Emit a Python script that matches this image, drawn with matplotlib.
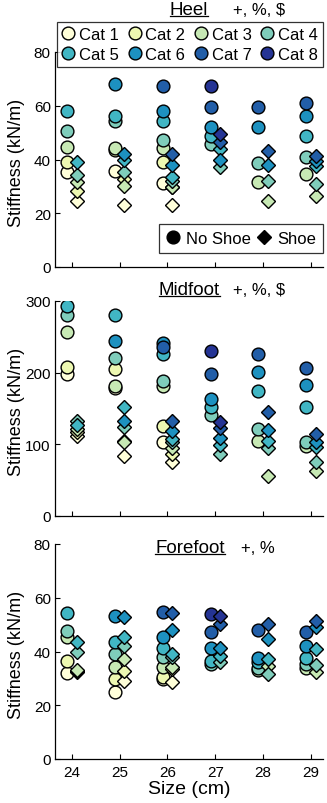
import matplotlib
matplotlib.use('Agg')
import matplotlib.pyplot as plt
import numpy as np
from matplotlib.lines import Line2D

plt.rcParams['font.family'] = ['Liberation Sans', 'DejaVu Sans']

nan = np.nan

# Shoe sizes (cm) and categories
sizes = [24, 25, 26, 27, 28, 29]
categories = ['Cat 1', 'Cat 2', 'Cat 3', 'Cat 4', 'Cat 5', 'Cat 6', 'Cat 7', 'Cat 8']
cat_colors = ['#ffffd9', '#edf8b1', '#c7e9b4', '#7fcdbb',
              '#41b6c4', '#1d91c0', '#225ea8', '#253494']

# Heel stiffness (kN/m), rows = categories, columns = sizes
heel_noshoe = [
    [35.5, 35.8, 31.1, nan, nan, nan],
    [39.0, 43.5, 39.0, nan, nan, nan],
    [44.8, 44.3, 44.3, nan, 31.5, 34.6],
    [50.5, 54.4, 47.3, 45.8, 38.6, 40.8],
    [58.2, 56.3, 54.4, 48.9, nan, 48.9],
    [nan, 68.1, 58.2, 52.2, 52.2, 56.3],
    [nan, nan, 67.2, 59.4, 59.4, 60.9],
    [nan, nan, nan, 67.5, nan, nan],
]
heel_shoe = [
    [24.7, 23.1, 23.0, nan, nan, nan],
    [28.3, 32.7, 29.8, nan, nan, nan],
    [31.8, 30.0, 29.7, nan, 24.4, 26.5],
    [34.4, 35.5, 32.0, 37.1, 32.1, 30.9],
    [39.1, 40.0, 33.5, 43.9, nan, 37.7],
    [nan, 42.0, 38.1, 39.8, 38.1, 39.5],
    [nan, nan, 42.0, 46.4, 43.0, 41.4],
    [nan, nan, nan, 49.5, nan, nan],
]

# Midfoot stiffness (kN/m)
mid_noshoe = [
    [198.0, 178.0, 102.8, nan, nan, nan],
    [207.4, 205.1, 126.0, nan, nan, nan],
    [257.2, 181.0, 181.0, nan, 105.0, 98.0],
    [280.5, 220.0, 188.8, 141.0, 121.4, 102.8],
    [292.6, 280.5, 226.0, 151.7, 174.8, 151.7],
    [nan, 244.6, 241.4, 163.0, 200.5, 182.8],
    [nan, nan, 235.4, 198.0, 226.0, 206.5],
    [nan, nan, nan, 230.7, nan, nan],
]
mid_shoe = [
    [112.0, 84.2, 75.0, nan, nan, nan],
    [116.8, 105.0, 86.5, nan, nan, nan],
    [121.0, 103.7, 95.0, nan, 56.2, 63.2],
    [133.0, 123.8, 103.0, 86.5, 94.5, 75.0],
    [127.0, 151.7, 107.4, 99.0, 105.0, 95.9],
    [nan, 133.0, 119.0, 108.4, 120.4, 103.7],
    [nan, nan, 133.0, 122.4, 144.7, 114.4],
    [nan, nan, nan, 130.7, nan, nan],
]

# Forefoot stiffness (kN/m)
fore_noshoe = [
    [32.0, 25.0, 29.8, nan, nan, nan],
    [36.6, 29.8, 30.5, nan, nan, nan],
    [45.3, 34.1, 34.1, nan, 33.0, 34.0],
    [47.8, 39.1, 37.8, 35.5, 33.7, 35.5],
    [54.3, 43.4, 41.2, 36.6, 36.0, 37.5],
    [nan, 53.3, 45.3, 41.2, 37.5, 42.2],
    [nan, nan, 54.8, 47.1, 48.1, 47.1],
    [nan, nan, nan, 54.0, nan, nan],
]
fore_shoe = [
    [32.5, 29.1, 28.5, nan, nan, nan],
    [32.9, 32.9, 33.5, nan, nan, nan],
    [33.2, 37.2, 34.1, nan, 34.6, 32.4],
    [39.9, 42.2, 38.0, 36.0, 31.6, 35.0],
    [43.4, 45.3, 39.1, 38.4, 37.2, 40.9],
    [nan, 52.7, 48.1, 41.2, 44.7, 49.0],
    [nan, nan, 54.3, 50.2, 50.2, 51.5],
    [nan, nan, nan, 53.1, nan, nan],
]

panels = [
    ('Heel', '+, %, $', heel_noshoe, heel_shoe, 80, [0, 20, 40, 60, 80]),
    ('Midfoot', '+, %, $', mid_noshoe, mid_shoe, 300, [0, 100, 200, 300]),
    ('Forefoot', '+, %', fore_noshoe, fore_shoe, 80, [0, 20, 40, 60, 80]),
]

W, H = 327, 804
fig = plt.figure(figsize=(W / 100, H / 100), dpi=100)

# axes boxes in pixels: top, bottom
boxes = [(53, 268), (302, 517), (545, 760)]
left_px, right_px = 55, 323

# title positions: (name center x, baseline y, note left x)
title_pos = [(189, 15, 233), (189.5, 295, 233), (190, 553, 241)]

offset = 0.1
axes = []
title_texts = []
for i, (name, note, noshoe, shoe, ymax, yticks) in enumerate(panels):
    top, bot = boxes[i]
    ax = fig.add_axes([left_px / W, 1 - bot / H, (right_px - left_px) / W, (bot - top) / H])
    axes.append(ax)

    x = np.array(sizes, dtype=float)
    for c in range(len(categories)):
        ax.plot(x - offset, noshoe[c], 'o', ms=9.2, mfc=cat_colors[c], mec='black',
                mew=1.0, linestyle='none', zorder=2)
    for c in range(len(categories)):
        ax.plot(x + offset, shoe[c], 'D', ms=7.4, mfc=cat_colors[c], mec='black',
                mew=1.0, linestyle='none', zorder=3)

    ax.set_xlim(23.65, 29.25)
    ax.set_ylim(0, ymax)
    ax.set_yticks(yticks)
    ax.set_xticks(sizes)
    ax.spines['top'].set_visible(False)
    ax.spines['right'].set_visible(False)
    for s in ['left', 'bottom']:
        ax.spines[s].set_linewidth(0.9)
    ax.tick_params(direction='in', length=3.5, width=0.8, labelsize=11, pad=3)
    ax.tick_params(axis='x', pad=4)
    if i < 2:
        ax.set_xticklabels([])
    ax.set_ylabel('Stiffness (kN/m)', fontsize=13)
    ax.yaxis.set_label_coords(-0.112, 0.49)

    cx, base, nx = title_pos[i]
    t = fig.text(cx / W, 1 - base / H, name, ha='center', va='baseline', fontsize=13.5)
    title_texts.append((t, base))
    fig.text(nx / W, 1 - base / H, note, ha='left', va='baseline', fontsize=12)

axes[2].set_xlabel('Size (cm)', fontsize=14, labelpad=1)

# category legend (row-wise order)
order = [0, 4, 1, 5, 2, 6, 3, 7]
cat_handles = [Line2D([], [], marker='o', ms=9.2, mfc=cat_colors[k], mec='black',
                      mew=1.0, linestyle='none') for k in order]
leg1 = axes[0].legend(cat_handles, [categories[k] for k in order], ncol=4,
                      loc='upper right', bbox_to_anchor=(1.0, 1.14),
                      fontsize=12, frameon=True, fancybox=False, edgecolor='black',
                      handlelength=0.8, handletextpad=0.24, columnspacing=0.55,
                      borderpad=0.3, labelspacing=0.3, borderaxespad=0.0)
leg1.get_frame().set_linewidth(0.9)
axes[0].add_artist(leg1)

shoe_handles = [Line2D([], [], marker='o', ms=9.2, mfc='black', mec='black', linestyle='none'),
                Line2D([], [], marker='D', ms=7.4, mfc='black', mec='black', linestyle='none')]
leg2 = axes[0].legend(shoe_handles, ['No Shoe', 'Shoe'], ncol=2, loc='lower right',
                      bbox_to_anchor=(1.0, 0.065), fontsize=12, frameon=True,
                      fancybox=False, edgecolor='black', handlelength=0.8,
                      handletextpad=0.4, columnspacing=0.35, borderpad=0.42,
                      borderaxespad=0.0)
leg2.get_frame().set_linewidth(0.9)

# underline the region names
fig.canvas.draw()
r = fig.canvas.get_renderer()
for t, base in title_texts:
    bb = t.get_window_extent(r)
    y = 1 - (base + 1.5) / H
    fig.add_artist(Line2D([bb.x0 / W, bb.x1 / W], [y, y], transform=fig.transFigure,
                          color='black', lw=0.9))

fig.savefig('out.png', dpi=100)
